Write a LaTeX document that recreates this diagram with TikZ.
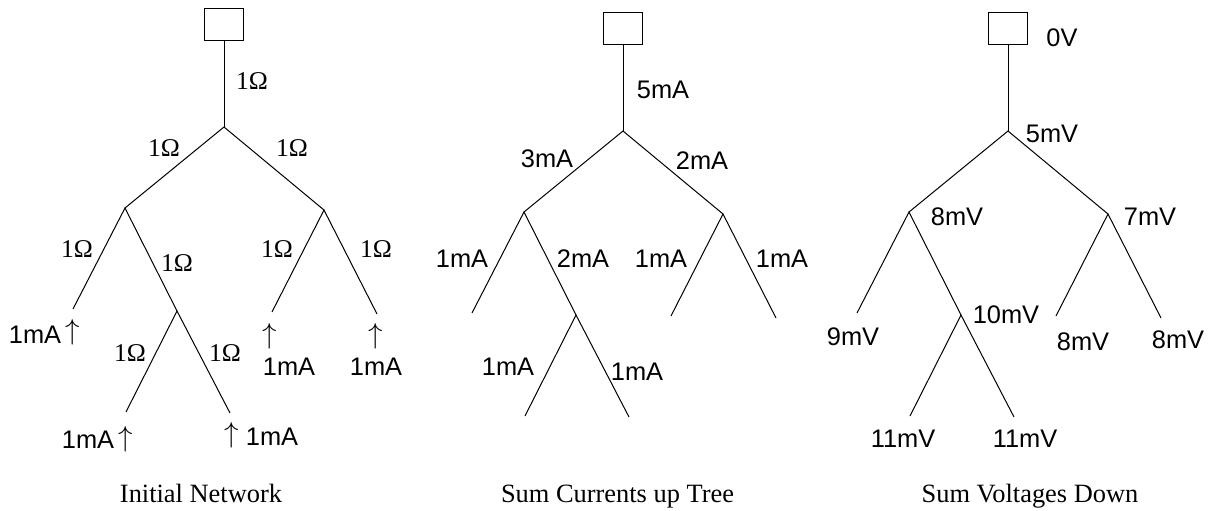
\documentclass[tikz,border=0pt]{standalone}
\usepackage{fontspec}
\setmainfont{Liberation Serif}
\setsansfont{Liberation Sans}
\usetikzlibrary{positioning}
\tikzset{
  every node/.style={inner sep=0pt},
  wire/.style={line width=0.5pt},
  pad/.style={draw, line width=0.5pt, minimum width=19.5pt, minimum height=16pt},
  ohm/.style={font=\fontsize{12.8}{15}\selectfont},
  val/.style={font=\fontsize{12.7}{15}\sffamily},
  arr/.style={font=\fontsize{14}{16}\selectfont},
  treecap/.style={anchor=base, font=\fontsize{13.2}{15}\selectfont},
}

\begin{document}
\begin{tikzpicture}[x=0.5pt, y=-0.5pt]
\useasboundingbox (0,0) rectangle (1217,510);

% the same tree three times
\foreach \t/\rx/\ry in {a/224/127, b/623/131, c/1008/131}{
  \coordinate (\t-root) at (\rx,\ry);
  \node[pad] (\t-pad) at (\rx,\ry-102.5) {};
  \coordinate (\t-l)   at (\rx-99,\ry+81);
  \coordinate (\t-r)   at (\rx+100,\ry+83);
  \coordinate (\t-ll)  at (\rx-151,\ry+182);
  \coordinate (\t-lr)  at (\rx-47,\ry+184);
  \coordinate (\t-rl)  at (\rx+48,\ry+185);
  \coordinate (\t-rr)  at (\rx+153,\ry+187);
  \coordinate (\t-lrl) at (\rx-98,\ry+285);
  \coordinate (\t-lrr) at (\rx+6,\ry+286);
  \draw[wire] (\t-pad) -- (\t-root);
  \draw[wire] (\t-l) -- (\t-root) -- (\t-r);
  \draw[wire] (\t-ll) -- (\t-l) -- (\t-lr);
  \draw[wire] (\t-rl) -- (\t-r) -- (\t-rr);
  \draw[wire] (\t-lrl) -- (\t-lr) -- (\t-lrr);
}

% initial network
\node[ohm] (aRes0) at (252,81)  {1Ω};
\node[ohm] (aResL) at (164,148) {1Ω};
\node[ohm] (aResR) at (292,148) {1Ω};
\node[ohm] (aResLL) at (77,249)  {1Ω};
\node[ohm] (aResLR) at (177,263) {1Ω};
\node[ohm] (aResRL) at (277,249) {1Ω};
\node[ohm] (aResRR) at (376,249) {1Ω};
\node[ohm] (aResLRL) at (130,353) {1Ω};
\node[ohm] (aResLRR) at (225,353) {1Ω};

\node[val] (aSrcLL)  at (35,334.5) {1mA};
\node[arr] (aArrLL)  at (73,332)   {$\uparrow$};
\node[val] (aSrcLRL) at (88,440)   {1mA};
\node[arr] (aArrLRL) at (126,439.5) {$\uparrow$};
\node[arr] (aArrLRR) at (232,435)  {$\uparrow$};
\node[val] (aSrcLRR) at (272,437)  {1mA};
\node[arr] (aArrRL)  at (270,336.5) {$\uparrow$};
\node[val] (aSrcRL)  at (289,367)  {1mA};
\node[arr] (aArrRR)  at (376,336.5) {$\uparrow$};
\node[val] (aSrcRR)  at (376,367)  {1mA};

% currents
\node[val] (bCur0)   at (663,90)  {5mA};
\node[val] (bCurL)   at (547,159) {3mA};
\node[val] (bCurR)   at (702,161) {2mA};
\node[val] (bCurLL)  at (462,259) {1mA};
\node[val] (bCurLR)  at (583,259) {2mA};
\node[val] (bCurRL)  at (661,259) {1mA};
\node[val] (bCurRR)  at (782,259) {1mA};
\node[val] (bCurLRL) at (508,367) {1mA};
\node[val] (bCurLRR) at (637,372) {1mA};

% voltages
\node[val] (cVolPad) at (1062,38)  {0V};
\node[val] (cVol0)   at (1052,134) {5mV};
\node[val] (cVolL)   at (957,217)  {8mV};
\node[val] (cVolR)   at (1150,217) {7mV};
\node[val] (cVolLL)  at (853,337)  {9mV};
\node[val] (cVolLR)  at (1006,315) {10mV};
\node[val] (cVolRL)  at (1083,342) {8mV};
\node[val] (cVolRR)  at (1178,340) {8mV};
\node[val] (cVolLRL) at (903,439)  {11mV};
\node[val] (cVolLRR) at (1025,439) {11mV};

% captions
\node[treecap] (aCap) at (201,502)   {Initial Network};
\node[treecap] (bCap) at (617.5,502) {Sum Currents up Tree};
\node[treecap] (cCap) at (1030,502)  {Sum Voltages Down};

\end{tikzpicture}
\end{document}
